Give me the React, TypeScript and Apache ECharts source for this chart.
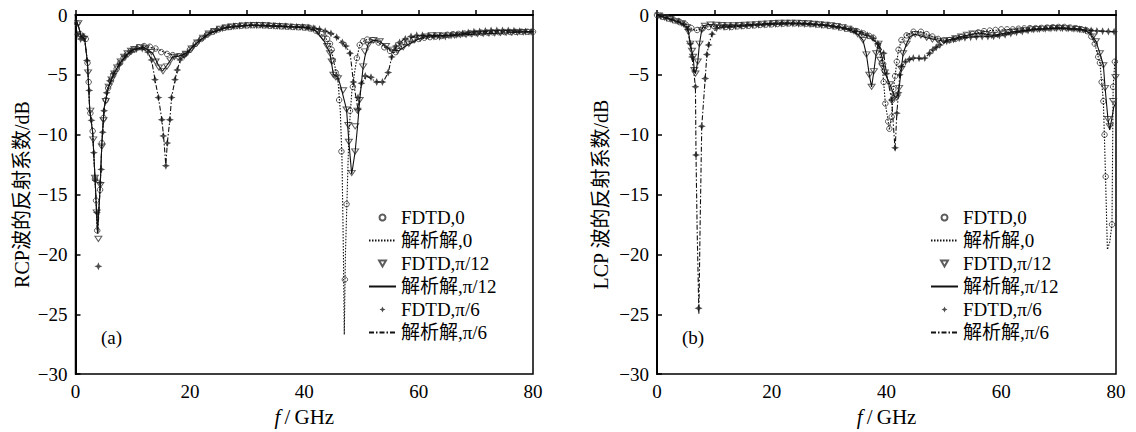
import React, { useEffect, useRef } from "react";
import * as echarts from "echarts";

// ---------- RCP (a) ----------
const rcpLine0 = [[0,-0.3],[0.5,-0.9],[1,-1.8],[1.6,-2.0],[2.1,-4.0],[2.5,-8.0],[3,-9.8],[3.4,-13.5],[3.8,-18.0],[4.3,-14.5],[4.6,-10.8],[5,-7.8],[5.7,-6.1],[6.6,-5.0],[7.8,-4.0],[9,-3.3],[10,-2.9],[12,-2.6],[14,-2.8],[16,-3.2],[18,-3.45],[19.4,-3.2],[20.6,-2.6],[21.8,-2.1],[23.5,-1.5],[26.4,-1.05],[30.5,-0.85],[36,-0.95],[40,-1.05],[42,-1.3],[43.5,-1.8],[44.5,-2.4],[45,-3.5],[45.9,-5.5],[46.3,-8],[46.6,-12],[46.85,-20],[47.0,-26.7],[47.2,-20],[47.5,-15],[47.8,-10],[48.3,-6.5],[48.8,-4.8],[49.2,-3.6],[49.7,-2.5],[50.6,-2.1],[51.5,-2.0],[52.6,-2.2],[54.4,-2.8],[55.6,-3.2],[56.7,-2.7],[58,-2.3],[60,-2.0],[63,-1.8],[66,-1.6],[70,-1.5],[75,-1.4],[80,-1.4]];
const rcpLine12 = [[0,-0.3],[0.5,-0.9],[1,-1.8],[1.6,-2.0],[2.1,-4.0],[2.5,-8.0],[3,-9.8],[3.4,-13.5],[3.85,-18.2],[4.3,-14.5],[4.6,-10.8],[5,-7.8],[5.7,-6.1],[6.6,-5.0],[7.8,-4.0],[9,-3.3],[10,-2.9],[12,-2.7],[13.5,-3.2],[14.5,-4.2],[15.2,-4.7],[16,-4.2],[17,-3.5],[18,-3.45],[19.4,-3.2],[20.6,-2.6],[21.8,-2.1],[23.5,-1.5],[26.4,-1.05],[30.5,-0.85],[36,-0.95],[40,-1.05],[42,-1.3],[43.5,-2.2],[44.5,-3.2],[45.1,-5.0],[45.9,-5.2],[46.5,-6.2],[47.4,-7.9],[47.8,-10.6],[48.3,-13.3],[48.9,-11.4],[49.3,-9.4],[49.7,-7.1],[50.3,-4.3],[50.6,-3.5],[51.2,-2.4],[52.1,-2.1],[53.2,-2.2],[55,-2.9],[56.5,-3.0],[58,-2.5],[60,-2.0],[62,-1.7],[66,-1.7],[70,-1.6],[75,-1.5],[80,-1.4]];
const rcpLine6 = [[0,-0.3],[0.5,-0.9],[1,-1.8],[1.6,-2.0],[2.1,-4.0],[2.5,-8.0],[3,-9.8],[3.4,-13.5],[3.9,-18.3],[4.3,-14.5],[4.6,-10.8],[5,-7.8],[5.7,-6.1],[6.6,-5.0],[7.8,-4.0],[9,-3.3],[10,-2.9],[11.5,-2.8],[12.5,-3.0],[13.3,-3.75],[13.9,-5.4],[14.5,-6.9],[15.1,-8.75],[15.4,-10.1],[15.8,-12.6],[16.05,-10.7],[16.5,-8.75],[16.8,-6.9],[17.4,-5.4],[17.8,-4.6],[18.3,-3.75],[19.4,-3.3],[20.6,-2.6],[21.8,-2.1],[23.5,-1.5],[26.4,-1.05],[30.5,-0.85],[36,-0.95],[40,-1.0],[43,-1.2],[45,-1.6],[46.5,-2.2],[48,-3.1],[48.6,-5.6],[49.4,-7.9],[50,-5.7],[50.9,-5.1],[52.7,-5.6],[53.8,-5.6],[54.7,-4.8],[55.3,-3.5],[56.1,-2.6],[57.5,-2.0],[60,-1.7],[63,-1.8],[66,-1.7],[70,-1.4],[75,-1.3],[80,-1.4]];

const rcpFdtd0 = [[0.3,-0.7],[0.8,-1.6],[1.3,-1.9],[1.8,-2.0],[2.1,-4.0],[2.3,-5.6],[2.6,-8.2],[3,-9.7],[3.4,-13.7],[3.6,-15.5],[3.8,-18.0],[4.3,-14.6],[4.6,-10.7],[4.9,-8.6],[5.3,-7.1],[5.7,-6.1],[6.2,-5.5],[6.6,-5.0],[7.2,-4.5],[7.8,-4.0],[8.4,-3.6],[9,-3.3],[9.6,-3.05],[10.2,-2.9],[11,-2.7],[12,-2.6],[13,-2.65],[14,-2.8],[15,-3.1],[16,-3.25],[17,-3.35],[18,-3.45],[19,-3.3],[20,-2.9],[21,-2.4],[22,-2.0],[23,-1.65],[24,-1.4],[25,-1.2],[26,-1.07],[27,-1.0],[28,-0.93],[29,-0.9],[30,-0.87],[31,-0.85],[32,-0.85],[33,-0.87],[34,-0.9],[35,-0.92],[36,-0.95],[37,-0.97],[38,-1.0],[39,-1.02],[40,-1.05],[41,-1.12],[42,-1.3],[43,-1.6],[44,-2.0],[44.5,-2.4],[44.8,-2.9],[45.0,-3.8],[45.5,-4.8],[46.1,-7.1],[46.5,-11.4],[47.1,-22.1],[47.4,-15.8],[48.0,-8.0],[48.5,-6.0],[49.2,-3.6],[49.7,-2.5],[50.3,-2.2],[51,-2.05],[52,-2.1],[53,-2.3],[54,-2.7],[55,-3.0],[56,-3.1],[57,-2.6],[58,-2.3],[59,-2.1],[60,-2.0],[61,-1.9],[62,-1.85],[63,-1.8],[64,-1.75],[65,-1.65],[66,-1.6],[67,-1.58],[68,-1.55],[69,-1.52],[70,-1.5],[71,-1.48],[72,-1.46],[73,-1.45],[74,-1.43],[75,-1.42],[76,-1.42],[77,-1.41],[78,-1.4],[79,-1.4],[80,-1.4]];
const rcpFdtd12 = [[0.5,-0.7],[1.0,-1.8],[1.5,-2.0],[2.2,-4.8],[2.6,-8.0],[3.1,-10.4],[3.4,-13.6],[3.7,-16.5],[4.0,-18.7],[4.35,-14.2],[4.6,-11.0],[4.9,-8.8],[5.3,-7.2],[5.8,-6.0],[6.3,-5.4],[6.8,-4.9],[7.3,-4.4],[7.9,-3.9],[8.5,-3.5],[9.1,-3.2],[9.7,-3.0],[10.3,-2.85],[11.3,-2.7],[12.3,-2.75],[13.3,-3.1],[14.0,-3.9],[14.6,-4.4],[15.3,-4.7],[16.0,-4.3],[16.6,-3.8],[17.3,-3.5],[18.3,-3.45],[19.3,-3.25],[20.3,-2.8],[21.3,-2.3],[22.3,-1.9],[23.3,-1.55],[24.3,-1.35],[25.3,-1.15],[26.3,-1.05],[27.3,-0.97],[28.3,-0.92],[29.3,-0.88],[30.3,-0.86],[31.3,-0.85],[32.3,-0.85],[33.3,-0.87],[34.3,-0.9],[35.3,-0.93],[36.3,-0.95],[37.3,-0.98],[38.3,-1.0],[39.3,-1.03],[40.3,-1.06],[41.3,-1.15],[42.3,-1.4],[43.3,-1.9],[44.0,-2.6],[44.5,-3.2],[44.8,-3.9],[45.1,-5.0],[45.5,-5.2],[45.9,-5.3],[46.8,-6.3],[47.4,-7.9],[47.7,-9.2],[47.8,-10.6],[48.3,-13.2],[48.9,-11.4],[48.9,-9.3],[49.3,-8.0],[49.7,-7.1],[50.3,-4.3],[50.6,-3.05],[51.2,-2.5],[52.1,-2.1],[53.2,-2.2],[54.3,-2.6],[55.3,-2.9],[56.3,-3.0],[57.3,-2.7],[58.3,-2.4],[59.3,-2.1],[60.3,-1.95],[61.3,-1.8],[62.3,-1.7],[63.3,-1.7],[64.3,-1.72],[65.3,-1.72],[66.3,-1.7],[67.3,-1.67],[68.3,-1.64],[69.3,-1.61],[70.3,-1.58],[71.3,-1.56],[72.3,-1.54],[73.3,-1.52],[74.3,-1.5],[75.3,-1.49],[76.3,-1.47],[77.3,-1.45],[78.3,-1.43],[79.3,-1.42]];
const rcpFdtd6 = [[0.4,-1.6],[0.9,-2.0],[1.4,-1.8],[2.0,-3.8],[2.4,-6.3],[2.8,-8.8],[3.2,-11.5],[3.5,-13.8],[3.75,-16.5],[4.0,-21.0],[4.3,-14.0],[4.5,-12.9],[4.75,-9.8],[5.0,-8.0],[5.45,-6.5],[6.0,-5.5],[6.67,-4.9],[7.67,-4.1],[8.67,-3.45],[9.67,-3.05],[10.67,-2.85],[11.67,-2.8],[12.67,-3.1],[13.3,-3.75],[13.9,-5.4],[14.5,-6.9],[15.1,-8.75],[15.35,-10.1],[15.8,-12.6],[16.05,-10.7],[16.5,-8.75],[16.8,-6.9],[17.4,-5.4],[17.8,-4.6],[18.3,-3.75],[19.0,-3.4],[19.67,-3.1],[20.67,-2.6],[21.67,-2.1],[22.67,-1.75],[23.67,-1.45],[24.67,-1.25],[25.67,-1.1],[26.67,-1.0],[27.67,-0.94],[28.67,-0.9],[29.67,-0.87],[30.67,-0.85],[31.67,-0.85],[32.67,-0.86],[33.67,-0.88],[34.67,-0.9],[35.67,-0.92],[36.67,-0.94],[37.67,-0.97],[38.67,-0.99],[39.67,-1.0],[40.67,-1.05],[41.67,-1.1],[42.67,-1.2],[43.67,-1.35],[44.67,-1.55],[45.67,-1.85],[46.67,-2.3],[47.3,-2.6],[48.0,-3.2],[48.6,-5.6],[49.4,-6.9],[49.4,-7.9],[50.0,-5.7],[50.67,-5.1],[51.67,-5.2],[52.67,-5.6],[53.67,-5.6],[54.67,-4.8],[55.3,-3.5],[56.0,-2.6],[56.67,-2.3],[57.67,-2.0],[58.67,-1.8],[59.67,-1.7],[60.67,-1.7],[61.67,-1.75],[62.67,-1.8],[63.67,-1.82],[64.67,-1.8],[65.67,-1.72],[66.67,-1.65],[67.67,-1.55],[68.67,-1.47],[69.67,-1.4],[70.67,-1.37],[71.67,-1.33],[72.67,-1.3],[73.67,-1.3],[74.67,-1.3],[75.67,-1.3],[76.67,-1.32],[77.67,-1.35],[78.67,-1.38],[79.67,-1.4]];

// ---------- LCP (b) ----------
const lcpLine0 = [[0,0],[2,-0.3],[4,-0.6],[5,-0.8],[6,-1.1],[6.7,-1.3],[7.5,-1.2],[8.5,-1.0],[10,-0.95],[13,-1.0],[16,-0.9],[20,-0.8],[24,-0.7],[28,-0.8],[31,-0.95],[34,-1.2],[36,-1.5],[37.7,-1.9],[38.5,-2.5],[39.2,-4.0],[39.5,-5.6],[39.8,-7.4],[40.3,-8.9],[40.5,-9.6],[40.9,-8.5],[41.2,-6.2],[41.5,-5.1],[41.8,-3.9],[42.1,-2.9],[42.6,-2.1],[43.5,-1.7],[44.7,-1.4],[46,-1.4],[48,-1.8],[50,-2.1],[52,-2.0],[55,-1.6],[58,-1.3],[62,-1.2],[67,-1.1],[70,-1.0],[74,-1.2],[75.5,-1.5],[76.3,-2.4],[76.9,-3.5],[77.2,-4.0],[77.8,-7.2],[78.0,-10.5],[78.2,-14],[78.5,-19.6],[78.9,-19.0],[79.3,-17.5],[79.5,-6.0],[79.8,-3.9],[80,-3.5]];
const lcpLine12 = [[0,0],[2,-0.3],[3.5,-0.55],[4.5,-0.8],[5.2,-1.0],[5.5,-1.4],[5.8,-2.4],[6.3,-3.5],[6.5,-4.6],[6.7,-4.9],[7.1,-3.9],[7.4,-2.4],[7.8,-1.25],[8.1,-0.9],[9,-0.8],[11,-0.85],[14,-0.85],[18,-0.75],[22,-0.65],[26,-0.7],[30,-0.85],[33,-1.1],[35,-1.6],[35.9,-2.1],[36.5,-3.3],[37,-5.0],[37.4,-6.0],[37.8,-4.7],[38.2,-3.2],[38.6,-2.4],[39.2,-3.5],[39.7,-4.8],[40.6,-5.8],[41.4,-6.8],[41.8,-6.9],[42.2,-6.1],[42.9,-3.2],[43.5,-2.4],[44.1,-1.8],[45,-1.6],[47,-1.9],[50,-2.2],[53,-1.8],[56,-1.5],[58.6,-1.7],[62,-1.4],[66,-1.2],[70,-1.1],[74,-1.2],[75.5,-1.5],[76.5,-2.2],[77.2,-3.2],[77.8,-4.2],[78.1,-6.1],[78.6,-8.7],[78.9,-9.6],[79.3,-8.6],[79.6,-7.7],[80,-7.3]];
const lcpLine6 = [[0,0],[2,-0.3],[4,-0.6],[5.2,-1.0],[5.8,-2.4],[6.1,-3.5],[6.7,-6.0],[6.8,-11.7],[7.0,-18],[7.3,-25.0],[7.5,-18],[7.8,-9.3],[8.4,-5.3],[8.7,-3.3],[9.0,-2.5],[9.6,-1.6],[10.4,-1.1],[12,-1.0],[15,-0.9],[20,-0.75],[25,-0.75],[30,-0.9],[34,-1.3],[37,-1.8],[38.5,-2.4],[39.5,-3.2],[40.0,-4.9],[40.9,-7.1],[41.5,-11.3],[41.8,-8.2],[42.1,-6.5],[42.3,-5.0],[42.6,-4.3],[43.5,-3.8],[45,-3.6],[46.5,-3.7],[48.1,-2.9],[49.3,-2.5],[50.5,-2.2],[53,-1.9],[56,-1.8],[58.6,-1.8],[62,-1.5],[66,-1.2],[70,-1.1],[75,-1.3],[80,-1.4]];

const lcpFdtd0 = [[0,0],[1,-0.15],[2,-0.3],[3,-0.45],[4,-0.6],[5,-0.8],[6,-1.1],[7,-1.25],[8,-1.1],[9,-1.0],[10,-0.95],[11,-0.95],[12,-1.0],[13,-1.0],[14,-0.95],[15,-0.92],[16,-0.9],[17,-0.87],[18,-0.83],[19,-0.8],[20,-0.78],[21,-0.75],[22,-0.72],[23,-0.7],[24,-0.7],[25,-0.7],[26,-0.72],[27,-0.75],[28,-0.8],[29,-0.85],[30,-0.9],[31,-0.95],[32,-1.05],[33,-1.15],[34,-1.25],[35,-1.4],[36,-1.55],[37,-1.75],[37.7,-1.9],[38.5,-2.5],[39.2,-4.0],[39.5,-5.6],[39.8,-7.4],[40.3,-8.9],[40.5,-9.5],[40.9,-8.5],[41.0,-7.1],[41.2,-6.2],[41.5,-5.1],[41.8,-3.9],[42.1,-2.9],[42.6,-2.1],[43.5,-1.7],[44.7,-1.4],[46,-1.4],[47,-1.6],[48,-1.8],[49,-2.0],[50,-2.1],[51,-2.1],[52,-2.0],[53,-1.85],[54,-1.7],[55,-1.6],[56,-1.45],[57,-1.35],[58,-1.3],[59,-1.25],[60,-1.2],[61,-1.2],[62,-1.2],[63,-1.15],[64,-1.12],[65,-1.1],[66,-1.1],[67,-1.08],[68,-1.05],[69,-1.02],[70,-1.0],[71,-1.0],[72,-1.05],[73,-1.1],[74,-1.2],[75,-1.35],[75.7,-1.8],[76.3,-2.4],[76.9,-3.5],[77.2,-4.0],[77.5,-5.6],[77.8,-7.2],[78.0,-10.0],[78.2,-13.5],[79.3,-17.5],[79.5,-6.0],[79.8,-3.9]];
const lcpFdtd12 = [[0.33,-0.05],[1.33,-0.2],[2.33,-0.35],[3.33,-0.5],[4.33,-0.7],[5.2,-1.0],[5.5,-1.4],[5.8,-2.4],[6.1,-3.0],[6.3,-3.5],[6.5,-4.6],[6.7,-4.9],[7.1,-3.9],[7.4,-2.4],[7.8,-1.25],[8.33,-0.9],[9.33,-0.8],[10.33,-0.82],[11.33,-0.85],[12.33,-0.87],[13.33,-0.86],[14.33,-0.85],[15.33,-0.82],[16.33,-0.8],[17.33,-0.77],[18.33,-0.74],[19.33,-0.71],[20.33,-0.68],[21.33,-0.66],[22.33,-0.65],[23.33,-0.65],[24.33,-0.66],[25.33,-0.68],[26.33,-0.7],[27.33,-0.74],[28.33,-0.78],[29.33,-0.82],[30.33,-0.87],[31.33,-0.93],[32.33,-1.0],[33.33,-1.15],[34.33,-1.35],[35.0,-1.6],[35.9,-2.1],[36.5,-3.3],[37.0,-5.0],[37.4,-6.0],[37.8,-4.7],[38.2,-3.2],[38.6,-2.4],[38.9,-3.75],[39.3,-4.3],[39.7,-4.8],[40.6,-5.8],[41.4,-6.8],[41.8,-6.9],[42.2,-6.1],[42.6,-4.5],[42.9,-3.2],[43.5,-2.4],[44.1,-1.8],[45.0,-1.6],[46,-1.7],[47,-1.9],[48,-2.05],[49,-2.15],[50,-2.2],[51,-2.1],[52,-1.95],[53,-1.8],[54,-1.65],[55,-1.55],[56.33,-1.5],[57.33,-1.6],[58.33,-1.7],[59.33,-1.65],[60.33,-1.55],[61.33,-1.45],[62.33,-1.38],[63.33,-1.3],[64.33,-1.25],[65.33,-1.2],[66.33,-1.18],[67.33,-1.15],[68.33,-1.12],[69.33,-1.1],[70.33,-1.1],[71.33,-1.12],[72.33,-1.15],[73.33,-1.18],[74.33,-1.25],[75.33,-1.4],[76.0,-1.8],[76.5,-2.2],[77.2,-3.2],[77.8,-4.2],[78.1,-6.1],[78.6,-8.7],[78.9,-9.3],[79.5,-7.2],[79.9,-5.2]];
const lcpFdtd6 = [[0.67,-0.1],[1.67,-0.25],[2.67,-0.4],[3.67,-0.55],[4.67,-0.75],[5.4,-1.2],[5.8,-2.4],[6.1,-3.5],[6.7,-6.0],[6.8,-11.7],[7.25,-24.5],[7.8,-9.3],[8.4,-5.3],[8.7,-3.3],[9.0,-2.5],[9.6,-1.6],[10.4,-1.1],[11.67,-1.0],[12.67,-1.0],[13.67,-0.95],[14.67,-0.92],[15.67,-0.88],[16.67,-0.85],[17.67,-0.82],[18.67,-0.8],[19.67,-0.77],[20.67,-0.75],[21.67,-0.73],[22.67,-0.72],[23.67,-0.72],[24.67,-0.73],[25.67,-0.75],[26.67,-0.78],[27.67,-0.8],[28.67,-0.84],[29.67,-0.88],[30.67,-0.95],[31.67,-1.02],[32.67,-1.1],[33.67,-1.2],[34.67,-1.35],[35.67,-1.5],[36.67,-1.7],[37.67,-1.95],[38.5,-2.4],[39.5,-3.2],[40.0,-4.9],[40.9,-7.1],[41.5,-11.1],[41.8,-8.2],[42.1,-6.5],[42.3,-5.0],[42.6,-4.3],[43.3,-3.9],[44.0,-3.7],[44.67,-3.6],[45.67,-3.6],[46.67,-3.6],[47.5,-3.2],[48.1,-2.9],[48.67,-2.7],[49.3,-2.5],[50.5,-2.2],[51.67,-2.05],[52.67,-1.95],[53.67,-1.9],[54.67,-1.85],[55.67,-1.82],[56.67,-1.8],[57.67,-1.8],[58.67,-1.78],[59.67,-1.72],[60.67,-1.65],[61.67,-1.55],[62.67,-1.45],[63.67,-1.38],[64.67,-1.3],[65.67,-1.22],[66.67,-1.18],[67.67,-1.15],[68.67,-1.12],[69.67,-1.1],[70.67,-1.1],[71.67,-1.12],[72.67,-1.15],[73.67,-1.2],[74.67,-1.25],[75.67,-1.3],[76.67,-1.33],[77.67,-1.35],[78.67,-1.38],[79.67,-1.4]];

const seriesNames = ["FDTD,0", "解析解,0", "FDTD,π/12", "解析解,π/12", "FDTD,π/6", "解析解,π/6"];
const panelTags = ["(a)", "(b)"];
const yNames = ["RCP波的反射系数/dB", "LCP 波的反射系数/dB"];

const FONT = "'Liberation Serif', 'Noto Sans CJK SC', serif";
const STAR = "path://M0,-10L3,-3L10,0L3,3L0,10L-3,3L-10,0L-3,-3Z";
const TRI_DOWN = "path://M0,0L10,0L5,8.7Z";
const CLEAR = "rgba(0,0,0,0)";

function buildSeries(gi: number, f0: number[][], l0: number[][], f12: number[][], l12: number[][], f6: number[][], l6: number[][]) {
  const ax = { xAxisIndex: gi, yAxisIndex: gi };
  return [
    { ...ax, name: seriesNames[0], type: "scatter", data: f0, symbol: "circle", symbolSize: 5.5,
      itemStyle: { color: CLEAR, borderColor: "#333", borderWidth: 1 }, z: 2 },
    { ...ax, name: seriesNames[1], type: "line", data: l0, symbol: "none", itemStyle: { color: CLEAR },
      lineStyle: { color: "#111", width: 1.1, type: [1.5, 1.5] }, z: 3 },
    { ...ax, name: seriesNames[2], type: "scatter", data: f12, symbol: TRI_DOWN, symbolSize: [7, 6],
      symbolKeepAspect: true,
      itemStyle: { color: CLEAR, borderColor: "#333", borderWidth: 1 }, z: 2 },
    { ...ax, name: seriesNames[3], type: "line", data: l12, symbol: "none", itemStyle: { color: CLEAR },
      lineStyle: { color: "#111", width: 1.1, type: "solid" }, z: 3 },
    { ...ax, name: seriesNames[4], type: "scatter", data: f6, symbol: STAR, symbolSize: 8,
      itemStyle: { color: "#222" }, z: 2 },
    { ...ax, name: seriesNames[5], type: "line", data: l6, symbol: "none", itemStyle: { color: CLEAR },
      lineStyle: { color: "#111", width: 1.1, type: [5, 2, 1.5, 2] }, z: 3 },
  ];
}

export default function App() {
  const ref = useRef<HTMLDivElement>(null);
  useEffect(() => {
    if (!ref.current) return;
    const chart = echarts.init(ref.current, null, { renderer: "svg" });
    const grids = [
      { left: 75.5, top: 15, width: 457.5, height: 361 },
      { left: 657, top: 15, width: 459, height: 361 },
    ];
    const xAxes = grids.map((_, i) => ({
      type: "value", gridIndex: i, min: 0, max: 80, interval: 10,
      name: "{i|f}\u2009/\u2009GHz", nameLocation: "middle", nameGap: 29,
      nameTextStyle: { fontSize: 21, fontFamily: FONT, color: "#000",
        rich: { i: { fontStyle: "italic", fontSize: 21, fontFamily: FONT, color: "#000" } } },
      axisLine: { show: true, lineStyle: { color: "#000", width: 2 } },
      axisTick: { show: true, inside: true, length: 5, lineStyle: { color: "#000", width: 1.5 } },
      axisLabel: { fontSize: 19, fontFamily: FONT, color: "#000", margin: 8,
        formatter: (v: number) => (v % 20 === 0 ? String(v) : "") },
      splitLine: { show: false },
    }));
    const yAxes = grids.map((_, i) => ({
      type: "value", gridIndex: i, min: -30, max: 0, interval: 5,
      name: yNames[i], nameLocation: "middle", nameRotate: 90, nameGap: i === 0 ? 44 : 46,
      nameTextStyle: { fontSize: 20, fontFamily: FONT, color: "#000" },
      axisLine: { show: true, lineStyle: { color: "#000", width: 2 } },
      axisTick: { show: true, inside: true, length: 5, lineStyle: { color: "#000", width: 1.5 } },
      axisLabel: { fontSize: 19, fontFamily: FONT, color: "#000", margin: 8,
        formatter: (v: number) => (v < 0 ? "\u2212" + Math.abs(v) : String(v)) },
      splitLine: { show: false },
    }));
    const legendData = seriesNames.map((n, k) => (k === 2 ? { name: n, icon: TRI_DOWN } : { name: n }));
    const legendBase = {
      orient: "vertical", data: legendData, itemWidth: 27, itemHeight: 6, itemGap: 0,
      symbolKeepAspect: true,
      textStyle: { fontSize: 19, lineHeight: 23, fontFamily: FONT, color: "#000" },
      selectedMode: false, padding: 0,
    };
    chart.setOption({
      animation: false,
      backgroundColor: "#fff",
      grid: grids.map((g) => ({ ...g, show: true, borderColor: "#000", borderWidth: 1.5, backgroundColor: "transparent" })),
      xAxis: xAxes,
      yAxis: yAxes,
      legend: [
        { ...legendBase, left: 368, top: 206 },
        { ...legendBase, left: 930, top: 206 },
      ],
      graphic: [
        { type: "text", left: 101, top: 328, style: { text: panelTags[0], font: "19px 'Liberation Serif'", fill: "#000" } },
        { type: "text", left: 682, top: 328, style: { text: panelTags[1], font: "19px 'Liberation Serif'", fill: "#000" } },
      ],
      series: [
        ...buildSeries(0, rcpFdtd0, rcpLine0, rcpFdtd12, rcpLine12, rcpFdtd6, rcpLine6),
        ...buildSeries(1, lcpFdtd0, lcpLine0, lcpFdtd12, lcpLine12, lcpFdtd6, lcpLine6),
      ],
    });
    return () => chart.dispose();
  }, []);
  return (
    <div
      ref={ref}
      style={{ position: "fixed", left: 0, top: 0, width: 1136, height: 432, background: "#fff" }}
    />
  );
}
